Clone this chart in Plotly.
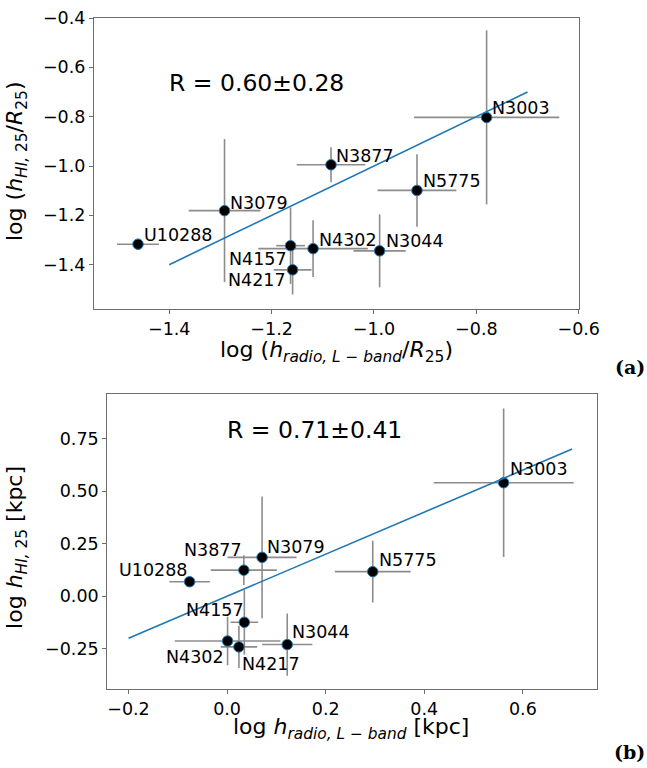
import plotly.graph_objects as go

# ---------------- data ----------------
names = ["U10288", "N3079", "N4157", "N4217", "N4302", "N3044", "N3877", "N5775", "N3003"]

# panel (a): log(h_radio/R25) vs log(h_HI/R25)
xa = [-1.461, -1.292, -1.163, -1.159, -1.119, -0.989, -1.084, -0.916, -0.780]
ya = [-1.317, -1.181, -1.323, -1.421, -1.335, -1.344, -0.995, -1.099, -0.803]

# panel (b): log h_radio [kpc] vs log h_HI [kpc]
xb = [-0.076, 0.071, 0.035, 0.024, 0.001, 0.122, 0.034, 0.2955, 0.561]
yb = [0.069, 0.185, -0.124, -0.241, -0.213, -0.230, 0.124, 0.117, 0.540]

# errors (same in both panels, log space)
xerr = [0.041, 0.070, 0.028, 0.037, 0.107, 0.051, 0.067, 0.077, 0.142]
yerr = [0.0, 0.290, 0.155, 0.100, 0.115, 0.148, 0.071, 0.147, 0.353]

# fitted relations (one-to-one lines)
fit_a_x = [-1.4, -0.7]
fit_a_y = [-1.4, -0.7]
fit_b_x = [-0.2, 0.7]
fit_b_y = [-0.2, 0.7]

r_text_a = "R = 0.60±0.28"
r_text_b = "R = 0.71±0.41"
r_pos_a = (-1.4, -0.7)
r_pos_b = (0.0, 0.75)

ticks_ax = [-1.4, -1.2, -1.0, -0.8, -0.6]
ticks_ax_txt = ["−1.4", "−1.2", "−1.0", "−0.8", "−0.6"]
ticks_ay = [-1.4, -1.2, -1.0, -0.8, -0.6, -0.4]
ticks_ay_txt = ["−1.4", "−1.2", "−1.0", "−0.8", "−0.6", "−0.4"]
ticks_bx = [-0.2, 0.0, 0.2, 0.4, 0.6]
ticks_bx_txt = ["−0.2", "0.0", "0.2", "0.4", "0.6"]
ticks_by = [-0.25, 0.0, 0.25, 0.5, 0.75]
ticks_by_txt = ["−0.25", "0.00", "0.25", "0.50", "0.75"]

# ---------------- styles / label placement (pixels) ----------------
lab_a = {
    "U10288": ("left", 5.6, -2.3), "N3079": ("left", 5.7, -1.6),
    "N4157": ("right", -4, 19.6), "N4217": ("right", -6.7, 16.7),
    "N4302": ("left", 5.8, -2.4), "N3044": ("left", 6.3, -3.3),
    "N3877": ("left", 5.0, -2.7), "N5775": ("left", 5.7, -2.7),
    "N3003": ("left", 5.4, -2.7),
}
lab_b = {
    "U10288": ("right", -3, -5), "N3079": ("left", 5, -4.3),
    "N4157": ("right", 0, -6), "N4217": ("left", 3.3, 23.3),
    "N4302": ("right", -3.7, 22), "N3044": ("left", 4.6, -6),
    "N3877": ("right", -1.7, -13.3), "N5775": ("left", 6, -5.4),
    "N3003": ("left", 6, -7),
}

FONT = "DejaVu Sans"
W, H = 647, 768          # reference picture size (layout fractions are based on it)
PAGE_W = 668             # width at which the page is laid out
TICK_FS = 17.5
LAB_FS = 17.5
TITLE_FS = 22
R_FS = 23.5
SPINE = "#6e6e6e"
BLUE = "#1f77b4"

fig = go.Figure()


def add_panel(x, y, fx, fy, xref, yref):
    fig.add_trace(go.Scatter(
        x=x, y=y, mode="markers", xaxis=xref, yaxis=yref,
        marker=dict(size=10.5, color="black", line=dict(color=BLUE, width=1)),
        error_x=dict(type="data", array=xerr, color="#8c8c8c", thickness=1.6, width=0),
        error_y=dict(type="data", array=yerr, color="#8c8c8c", thickness=1.6, width=0),
        showlegend=False, hoverinfo="skip"))
    fig.add_trace(go.Scatter(
        x=fx, y=fy, mode="lines", xaxis=xref, yaxis=yref,
        line=dict(color=BLUE, width=1.6), showlegend=False, hoverinfo="skip"))


add_panel(xa, ya, fit_a_x, fit_a_y, "x", "y")
add_panel(xb, yb, fit_b_x, fit_b_y, "x2", "y2")

ann = []


def add_labels(x, y, lab, xref, yref):
    for n, xx, yy in zip(names, x, y):
        anc, dx, dy = lab[n]
        ann.append(dict(
            x=xx, y=yy, xref=xref, yref=yref, text=n, showarrow=False,
            xanchor=anc, yanchor="middle",
            xshift=(dx - 2) if anc == "left" else (dx + 2),
            yshift=0.365 * LAB_FS - dy,
            font=dict(family=FONT, size=LAB_FS, color="black")))


add_labels(xa, ya, lab_a, "x", "y")
add_labels(xb, yb, lab_b, "x2", "y2")

for (px, py), txt, xr, yr in [(r_pos_a, r_text_a, "x", "y"), (r_pos_b, r_text_b, "x2", "y2")]:
    ann.append(dict(x=px, y=py, xref=xr, yref=yr, text=txt, showarrow=False,
                    xanchor="left", yanchor="middle", xshift=-2, yshift=0.365 * R_FS,
                    font=dict(family=FONT, size=R_FS, color="black")))

title_font = dict(family=FONT, size=TITLE_FS, color="black")
panel_font = dict(family="DejaVu Serif", size=19, color="black")
ann += [
    dict(x=336.5 / W, y=1 - 345.5 / H, xref="paper", yref="paper", showarrow=False,
         text="log (<i>h</i><sub><i>radio, L − band</i></sub>/<i>R</i><sub>25</sub>)",
         xanchor="center", yanchor="middle", font=title_font),
    dict(x=17 / W, y=1 - 154 / H, xref="paper", yref="paper", showarrow=False,
         text="log (<i>h</i><sub><i>HI, </i>25</sub>/<i>R</i><sub>25</sub>)",
         textangle=-90, xanchor="center", yanchor="middle", font=title_font),
    dict(x=351.3 / W, y=1 - 727.5 / H, xref="paper", yref="paper", showarrow=False,
         text="log <i>h</i><sub><i>radio, L − band</i></sub> [kpc]",
         xanchor="center", yanchor="middle", font=title_font),
    dict(x=17 / W, y=1 - 545 / H, xref="paper", yref="paper", showarrow=False,
         text="log <i>h</i><sub><i>HI, </i>25</sub> [kpc]",
         textangle=-90, xanchor="center", yanchor="middle", font=title_font),
    dict(x=1.0, y=1 - 362 / H, xref="paper", yref="paper", showarrow=False,
         text="<b>(a)</b>", xanchor="right", yanchor="middle", font=panel_font),
    dict(x=1.0, y=1 - 752 / H, xref="paper", yref="paper", showarrow=False,
         text="<b>(b)</b>", xanchor="right", yanchor="middle", font=panel_font),
]


def axis(domain, rng, tv, tt, anchor):
    return dict(domain=domain, range=rng, tickvals=tv, ticktext=tt, anchor=anchor,
                showgrid=False, zeroline=False, showline=True, mirror=True,
                linecolor=SPINE, linewidth=1.2, ticks="outside", ticklen=4,
                tickcolor=SPINE, tickwidth=1, ticklabeloverflow="allow",
                tickfont=dict(family=FONT, size=TICK_FS, color="black"))


fig.update_layout(
    width=PAGE_W, height=H, autosize=False, margin=dict(l=0, r=0, t=0, b=0),
    paper_bgcolor="white", plot_bgcolor="white",
    xaxis=axis([94 / W, 579 / W], [-1.547, -0.5995], ticks_ax, ticks_ax_txt, "y"),
    yaxis=axis([1 - 303 / H, 1 - 8 / H], [-1.58, -0.3995], ticks_ay, ticks_ay_txt, "x"),
    xaxis2=axis([107.3 / W, 597.3 / W], [-0.243, 0.751], ticks_bx, ticks_bx_txt, "y2"),
    yaxis2=axis([1 - 688.3 / H, 1 - 389.3 / H], [-0.443, 0.961], ticks_by, ticks_by_txt, "x2"),
    annotations=ann,
)

fig.write_html(
    "out.html",
    config={"responsive": False, "displayModeBar": False},
    post_script="document.body.style.margin='0px';document.documentElement.style.overflow='hidden';",
)
